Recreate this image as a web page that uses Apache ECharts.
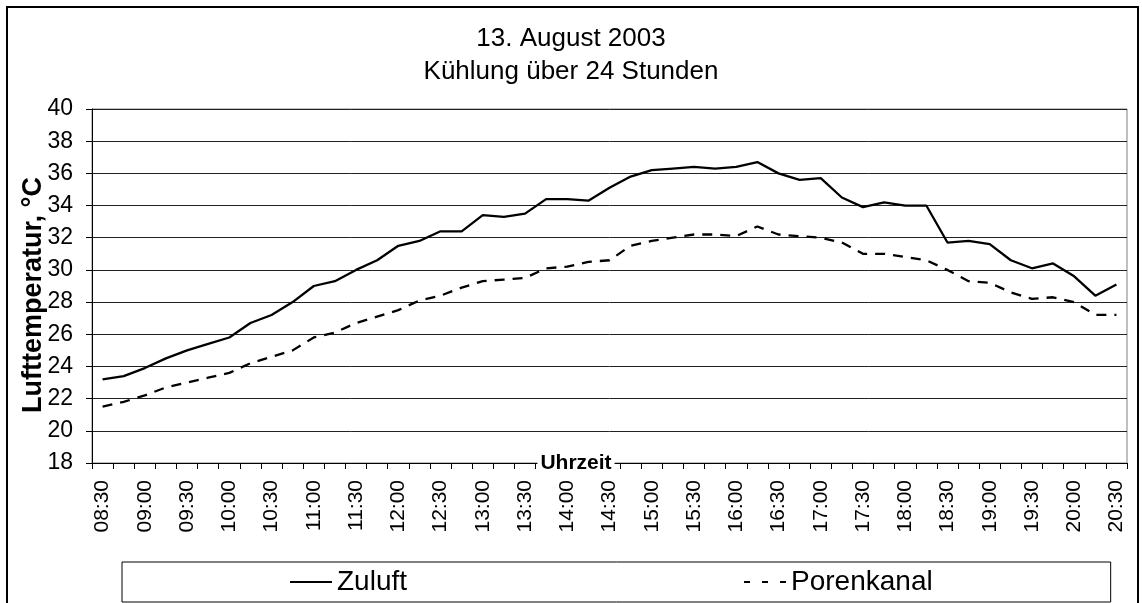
<!DOCTYPE html>
<html>
<head>
<meta charset="utf-8">
<script src="https://cdn.jsdelivr.net/npm/echarts@6/dist/echarts.min.js"></script>
<style>
html,body{margin:0;padding:0;background:#fff;}
#chart{width:1142px;height:603px;}
</style>
</head>
<body>
<div id="chart"></div>
<script>
const titleText = '13. August 2003\nKühlung über 24 Stunden';
const yAxisTitle = 'Lufttemperatur, °C';
const xAxisTitle = 'Uhrzeit';
const seriesNames = ['Zuluft', 'Porenkanal'];

const times = ['08:30','08:45','09:00','09:15','09:30','09:45','10:00','10:15','10:30','10:45',
  '11:00','11:15','11:30','11:45','12:00','12:15','12:30','12:45','13:00','13:15',
  '13:30','13:45','14:00','14:15','14:30','14:45','15:00','15:15','15:30','15:45',
  '16:00','16:15','16:30','16:45','17:00','17:15','17:30','17:45','18:00','18:15',
  '18:30','18:45','19:00','19:15','19:30','19:45','20:00','20:15','20:30'];

const zuluft = [23.2,23.4,23.9,24.5,25.0,25.4,25.8,26.7,27.2,28.0,
  29.0,29.3,30.0,30.6,31.5,31.8,32.4,32.4,33.4,33.3,
  33.5,34.4,34.4,34.3,35.1,35.8,36.2,36.3,36.4,36.3,
  36.4,36.7,36.0,35.6,35.7,34.5,33.9,34.2,34.0,34.0,
  31.7,31.8,31.6,30.6,30.1,30.4,29.6,28.4,29.1];

const porenkanal = [21.5,21.8,22.2,22.7,23.0,23.3,23.6,24.2,24.6,25.0,
  25.8,26.1,26.7,27.1,27.5,28.1,28.4,28.9,29.3,29.4,
  29.5,30.1,30.2,30.5,30.6,31.5,31.8,32.0,32.2,32.2,
  32.1,32.7,32.2,32.1,32.0,31.7,31.0,31.0,30.8,30.6,
  30.0,29.3,29.2,28.6,28.2,28.3,28.0,27.2,27.2];

const yMin = 18, yMax = 40, yStep = 2;

const chart = echarts.init(document.getElementById('chart'), null, {renderer:'canvas'});
const FONT = 'Liberation Sans, Arial, sans-serif';

chart.setOption({
  backgroundColor: '#fff',
  animation: false,
  textStyle: {fontFamily: FONT, color: '#000'},
  title: {
    text: titleText,
    left: 'center',
    top: 22,
    padding: 0,
    textStyle: {fontFamily: FONT, fontSize: 26, fontWeight: 'normal', color: '#000', lineHeight: 33}
  },
  grid: {left: 92, right: 15, top: 109, bottom: 140, show: true, borderColor: '#808080', borderWidth: 1},
  legend: {
    left: 122,
    top: 562,
    orient: 'horizontal',
    padding: [6, 178, 6, 167],
    itemGap: 336,
    itemWidth: 42,
    itemHeight: 14,
    borderColor: '#000',
    borderWidth: 1,
    backgroundColor: '#fff',
    itemStyle: {opacity: 0},
    textStyle: {fontFamily: FONT, fontSize: 28, color: '#000'},
    data: [
      {name: seriesNames[0]},
      {name: seriesNames[1], lineStyle: {type: [6, 12], width: 2}}
    ]
  },
  xAxis: {
    type: 'category',
    data: times,
    boundaryGap: true,
    axisLine: {lineStyle: {color: '#000', width: 1}},
    axisTick: {show: true, interval: 0, length: 6, lineStyle: {color: '#000'}},
    axisLabel: {interval: 1, rotate: 90, margin: 17, fontFamily: FONT, fontSize: 21, color: '#000'},
    splitLine: {show: false}
  },
  yAxis: {
    type: 'value',
    min: yMin, max: yMax, interval: yStep,
    axisLine: {show: true, lineStyle: {color: '#000', width: 1}},
    axisTick: {show: true, length: 6, lineStyle: {color: '#000'}},
    axisLabel: {margin: 19, fontFamily: FONT, fontSize: 23, color: '#000'},
    splitLine: {show: true, lineStyle: {color: '#222', width: 1}}
  },
  graphic: [
    {type: 'rect', z: 0, silent: true, shape: {x: 7, y: 7, width: 1131, height: 640},
     style: {fill: 'none', stroke: '#000', lineWidth: 2}},
    {type: 'text', z: 100, x: 34, y: 295, rotation: Math.PI/2,
     style: {text: yAxisTitle, font: 'bold 27px ' + FONT, fill: '#000', align: 'center', verticalAlign: 'middle'}},
    {type: 'text', z: 100, x: 576, y: 463,
     style: {text: xAxisTitle, font: 'bold 21px ' + FONT, fill: '#000', align: 'center', verticalAlign: 'middle',
             backgroundColor: '#fff', padding: [0, 3, 0, 3]}}
  ],
  series: [
    {name: seriesNames[0], type: 'line', data: zuluft, symbol: 'none', smooth: false,
     lineStyle: {color: '#000', width: 2.3, type: 'solid'}, itemStyle: {color: '#000'}},
    {name: seriesNames[1], type: 'line', data: porenkanal, symbol: 'none', smooth: false,
     lineStyle: {color: '#000', width: 2.3, type: [10, 8]}, itemStyle: {color: '#000'}}
  ]
});
</script>
</body>
</html>
